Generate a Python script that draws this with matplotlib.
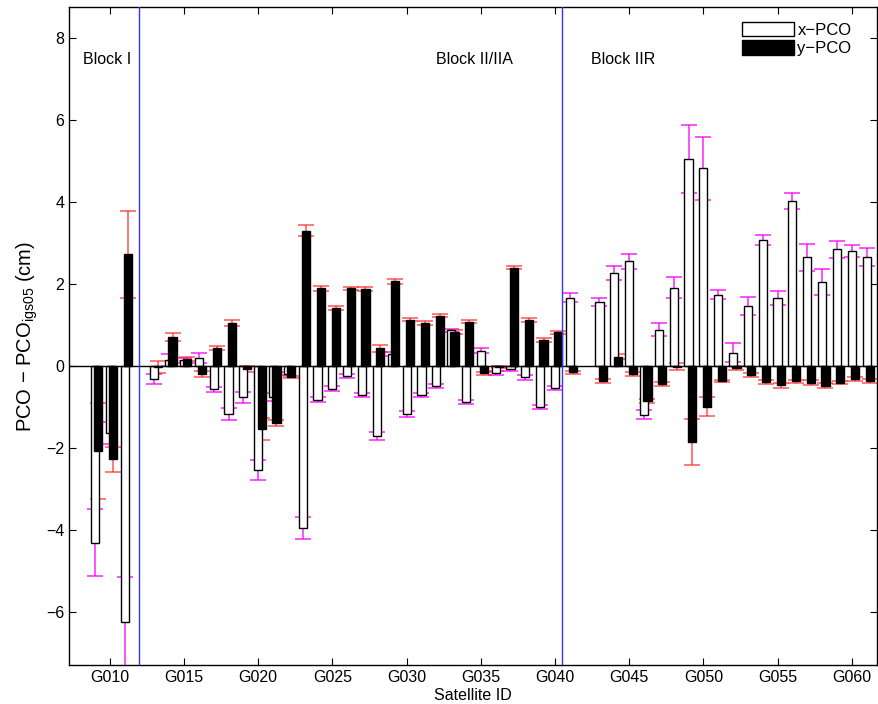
import numpy as np
import matplotlib
matplotlib.use("Agg")
import matplotlib.pyplot as plt
from matplotlib.patches import Patch

plt.rcParams['font.family'] = ['Liberation Sans', 'DejaVu Sans']
plt.rcParams['mathtext.fontset'] = 'custom'
plt.rcParams['mathtext.rm'] = 'Liberation Sans'
plt.rcParams['mathtext.it'] = 'Liberation Sans:italic'

#======================================================================#
## data (cm)
sat_id = [9, 10, 11,
          13, 14, 15, 16, 17, 18, 19, 20, 21, 22, 23, 24, 25, 26, 27, 28,
          29, 30, 31, 32, 33, 34, 35, 36, 37, 38, 39, 40, 41,
          43, 44, 45, 46, 47, 48, 49, 50, 51, 52, 53, 54, 55, 56, 57,
          58, 59, 60, 61]
x_pco = [-4.31, -1.64, -6.26,
         -0.32, 0.15, 0.14, 0.19, -0.57, -1.18, -0.77, -2.54, -0.76, -0.19,
         -3.95, -0.82, -0.56, -0.24, -0.72, -1.71,
         0.29, -1.18, -0.71, -0.49, 0.87, -0.89, 0.37, -0.17, -0.08, -0.28,
         -1.00, -0.53, 1.67,
         1.57, 2.26, 2.55, -1.19, 0.88, 1.91, 5.05, 4.82, 1.74, 0.32, 1.47,
         3.07, 1.66, 4.03, 2.65,
         2.05, 2.85, 2.80, 2.65]
x_err = [0.82, 0.27, 1.12,
         0.12, 0.14, 0.06, 0.12, 0.06, 0.15, 0.13, 0.25, 0.10, 0.03,
         0.27, 0.05, 0.06, 0.05, 0.05, 0.09,
         0.05, 0.07, 0.06, 0.06, 0.04, 0.05, 0.06, 0.04, 0.05, 0.06,
         0.05, 0.05, 0.12,
         0.10, 0.17, 0.19, 0.11, 0.16, 0.26, 0.84, 0.78, 0.11, 0.23, 0.22,
         0.13, 0.18, 0.20, 0.33,
         0.32, 0.21, 0.14, 0.22]
y_pco = [-2.08, -2.28, 2.72,
         -0.02, 0.71, 0.17, -0.19, 0.43, 1.05, -0.08, -1.54, -1.39, -0.27,
         3.30, 1.89, 1.41, 1.89, 1.87, 0.43,
         2.07, 1.13, 1.05, 1.23, 0.83, 1.08, -0.18, -0.03, 2.40, 1.13,
         0.63, 0.82, -0.16,
         -0.37, 0.23, -0.20, -0.85, -0.44, -0.02, -1.85, -1.00, -0.37, -0.04,
         -0.22, -0.39, -0.47, -0.38, -0.41,
         -0.48, -0.41, -0.32, -0.36]
y_err = [1.18, 0.30, 1.07,
         0.15, 0.10, 0.04, 0.07, 0.05, 0.08, 0.07, 0.26, 0.08, 0.03,
         0.13, 0.06, 0.05, 0.04, 0.05, 0.08,
         0.06, 0.04, 0.04, 0.04, 0.04, 0.04, 0.04, 0.03, 0.04, 0.05,
         0.04, 0.04, 0.04,
         0.04, 0.05, 0.05, 0.05, 0.04, 0.08, 0.56, 0.23, 0.03, 0.05,
         0.05, 0.05, 0.06, 0.04, 0.06,
         0.07, 0.04, 0.04, 0.05]

block_sep = [12, 40.5]
block_names = ['Block I', 'Block II/IIA', 'Block IIR']
block_text_x = [8.2, 32.0, 42.4]

tick_ids = [10, 15, 20, 25, 30, 35, 40, 45, 50, 55, 60]

#======================================================================#
## plot
fs = 11.5
bw = 0.55          # bar width
dy = 0.23          # offset of the y-PCO bar

fig = plt.figure(figsize=(8.79, 7.04), dpi=100)
ax = fig.add_axes([0.0785, 0.0554, 0.9192, 0.9346])

xs = np.array(sat_id, dtype=float)

# error bars first, bars drawn over them
ax.errorbar(xs, x_pco, yerr=x_err, fmt='none', ecolor='#ff00ff', alpha=0.8,
            elinewidth=1.2, capsize=5.6, capthick=1.2, zorder=1)
ax.errorbar(xs + dy, y_pco, yerr=y_err, fmt='none', ecolor='#ff2020', alpha=0.7,
            elinewidth=1.2, capsize=5.6, capthick=1.2, zorder=1)

ax.bar(xs, x_pco, width=bw, color='white', edgecolor='black', linewidth=1.0, zorder=2)
ax.bar(xs + dy, y_pco, width=bw, color='black', edgecolor='black', linewidth=1.0, zorder=3)

ax.axhline(0, color='black', linewidth=1.0, zorder=4)
for xv in block_sep:
    ax.axvline(xv, color='#3333ff', linewidth=1.0, zorder=5)

for name, tx in zip(block_names, block_text_x):
    ax.text(tx, 7.47, name, fontsize=fs, va='center', ha='left')

ax.set_xlim(7.25, 61.7)
ax.set_ylim(-7.3, 8.76)
ax.set_xticks(tick_ids)
ax.set_xticklabels(['G%03d' % t for t in tick_ids])
ax.set_yticks(np.arange(-6, 9, 2))
ax.tick_params(direction='in', top=True, right=True, labelsize=fs, length=5)
for sp in ax.spines.values():
    sp.set_linewidth(1.0)

ax.set_xlabel('Satellite ID', fontsize=fs, labelpad=2)
ax.set_ylabel(r'PCO $-$ PCO$_{\rm igs05}$ (cm)', fontsize=14.5, labelpad=4)

handles = [Patch(facecolor='white', edgecolor='black', label='x\u2212PCO'),
           Patch(facecolor='black', edgecolor='black', label='y\u2212PCO')]
ax.legend(handles=handles, loc='upper right', frameon=False, fontsize=12,
          handlelength=3.1, handleheight=0.95, labelspacing=0.15,
          handletextpad=0.2, borderaxespad=0.5, bbox_to_anchor=(0.987, 1.0))

plt.savefig('out.png', dpi=100)
